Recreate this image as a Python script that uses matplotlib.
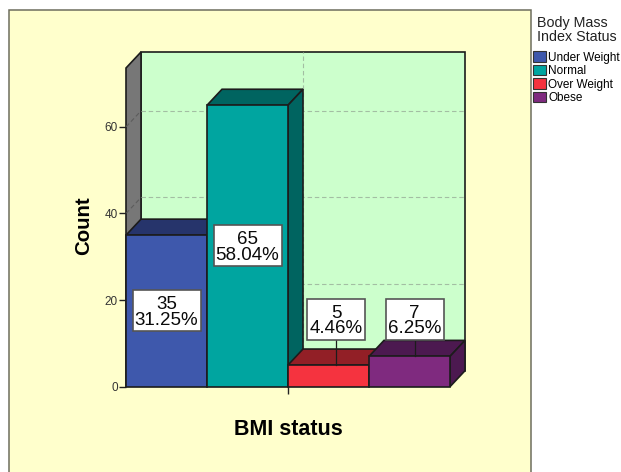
import matplotlib
matplotlib.use("Agg")
import matplotlib.pyplot as plt
from matplotlib.patches import Polygon, Rectangle, Patch
from matplotlib.transforms import offset_copy

plt.rcParams['font.family'] = ['Liberation Sans', 'DejaVu Sans']

# Chart values
categories = ["Under Weight", "Normal", "Over Weight", "Obese"]
counts = [35, 65, 5, 7]
face_colors = ["#3E58AC", "#00A5A0", "#F5333F", "#7F2A7F"]
shade_colors = ["#26346B", "#006460", "#921F26", "#4C1950"]
y_ticks = [0, 20, 40, 60]
label_centers = [0.5, 1.5, 2.593, 3.562]
label_height = 15.5

W, H = 621, 472
EDGE = "#1c1c1c"
px_per_cat = 81
px_per_count = 4.33
depth_x = 15 / px_per_cat      # box depth, in category units
depth_y = 16 / px_per_count    # box depth, in count units
y_top = 318.7 / px_per_count

fig = plt.figure(figsize=(W / 100, H / 100), dpi=100, facecolor="white")

# Outer chart frame runs off the bottom of the figure
fig.add_artist(Rectangle((8.5 / W, -0.02), 522 / W, 1.02 - 9.5 / H,
                         transform=fig.transFigure, fc="#FFFFCC",
                         ec="#6e6e5e", lw=1.1, zorder=-1))

ax = fig.add_axes([126 / W, (H - 386.7) / H, 324 / W, 318.7 / H])
ax.set_xlim(0, 4)
ax.set_ylim(0, y_top)
ax.patch.set_visible(False)
for s in ax.spines.values():
    s.set_visible(False)


def poly(points, fc, z, lw=1.2):
    ax.add_patch(Polygon(points, closed=True, fc=fc, ec=EDGE, lw=lw,
                         zorder=z, clip_on=False, joinstyle="miter"))


# Back and left walls
poly([(depth_x, depth_y), (4 + depth_x, depth_y),
      (4 + depth_x, y_top + depth_y), (depth_x, y_top + depth_y)], "#CCFFCC", 1)
poly([(0, 0), (depth_x, depth_y), (depth_x, y_top + depth_y), (0, y_top)], "#777777", 1.1)

# Wall gridlines
grid = dict(color="#A3BEA3", lw=0.8, ls=(0, (4, 2.5)), zorder=1.5, clip_on=False)
for t in y_ticks[1:]:
    ax.plot([depth_x, 4 + depth_x], [t + depth_y] * 2, **grid)
    ax.plot([0, depth_x], [t, t + depth_y], **{**grid, "color": "#5c5c5c"})
ax.plot([2 + depth_x] * 2, [depth_y, y_top + depth_y], **grid)

# Bars as extruded boxes, drawn left to right so nearer faces overlap
for i, (v, fc, sc) in enumerate(zip(counts, face_colors, shade_colors)):
    z = 2 + i * 0.1
    poly([(i, v), (i + 1, v), (i + 1 + depth_x, v + depth_y), (i + depth_x, v + depth_y)], sc, z)
    poly([(i + 1, 0), (i + 1 + depth_x, depth_y), (i + 1 + depth_x, v + depth_y), (i + 1, v)], sc, z)
    poly([(i, 0), (i + 1, 0), (i + 1, v), (i, v)], fc, z + 0.01)

# Value labels: tall bars hold theirs, short bars get a leader line
total = sum(counts)
text_shift = offset_copy(ax.transData, fig=fig, x=0, y=-1.1, units="points")
for i, v in enumerate(counts):
    pct = f"{v / total * 100:.2f}%"
    cx = label_centers[i]
    cy = v / 2 if v > label_height else label_height
    if v <= label_height:
        ax.plot([cx, cx], [cy, v], color=EDGE, lw=0.9, zorder=4, clip_on=False)
    box_w = (len(pct) * 10 + 8) / px_per_cat
    box_h = 41 / px_per_count
    ax.add_patch(Rectangle((cx - box_w / 2, cy - box_h / 2), box_w, box_h, fc="white",
                           ec="#555555", lw=1.2, zorder=5, clip_on=False))
    ax.text(cx, cy, f"{v}\n{pct}", transform=text_shift, ha="center", va="center",
            fontsize=13.5, linespacing=0.9, zorder=6, color="#0a0a0a")

# Axes furniture
ax.set_yticks(y_ticks)
ax.set_xticks([2])
ax.set_xticklabels([""])
ax.tick_params(axis="y", length=5, width=1, color="#222222", labelsize=8.5,
               labelcolor="#333333", pad=1)
ax.tick_params(axis="x", length=5, width=1, color="#222222")
fig.text(84 / W, 1 - 226 / H, "Count", rotation=90, ha="center", va="center",
         fontsize=14.7, fontweight="bold")
fig.text(288 / W, 1 - 429.5 / H, "BMI status", ha="center", va="center",
         fontsize=15.5, fontweight="bold")

# Legend
handles = [Patch(fc=c, ec="#333333", lw=0.8) for c in face_colors]
leg = fig.legend(handles, categories, loc="upper left",
                 bbox_to_anchor=(530.7 / W, 1 - 14 / H), frameon=False,
                 fontsize=8.5, title="Body Mass\nIndex Status", title_fontsize=10.3,
                 handlelength=1.1, handleheight=1.0, handletextpad=0.2,
                 labelspacing=0.1, borderpad=0.2, borderaxespad=0)
leg.get_title().set_linespacing(1.0)
leg.get_title().set_color("#222222")
leg._legend_box.sep = 5

fig.savefig("out.png", dpi=100)
